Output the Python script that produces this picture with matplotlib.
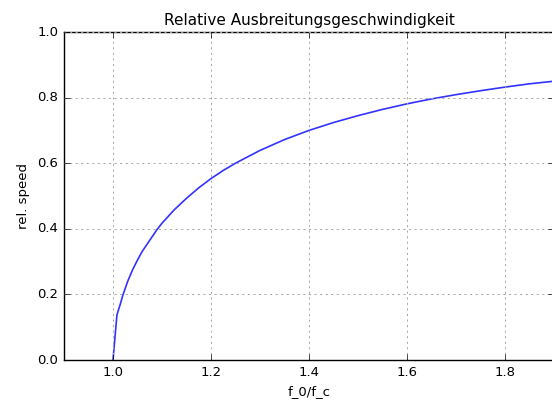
import matplotlib
matplotlib.use('Agg')
import matplotlib.pyplot as plt

# Werte
f_ratio = [1.0, 1.008, 1.015, 1.02, 1.03, 1.04, 1.05, 1.06, 1.075,
           1.09, 1.1, 1.125, 1.15, 1.175, 1.2, 1.225, 1.25, 1.3, 1.35, 1.4, 1.45,
           1.5, 1.55, 1.6, 1.65, 1.7, 1.75, 1.8, 1.85, 1.9]
rel_speed = [0.0, 0.137, 0.171, 0.197, 0.240, 0.275, 0.305, 0.332,
             0.365, 0.398, 0.417, 0.458, 0.493, 0.525, 0.553, 0.578, 0.600, 0.639,
             0.672, 0.700, 0.724, 0.745, 0.764, 0.781, 0.796, 0.809, 0.821, 0.832,
             0.842, 0.850]

plt.style.use('classic')
plt.rcParams['font.family'] = ['DejaVu Sans']
fig = plt.figure(figsize=(5.52, 4.07), dpi=100)
ax = fig.add_axes([64 / 552, 47 / 407, 490 / 552, 328 / 407])
ax.plot(f_ratio, rel_speed, color='b', linewidth=1.2, alpha=0.8)
ax.set_xlim(0.9, 1.9)
ax.set_ylim(0.0, 1.0)
ax.set_xticks([1.0, 1.2, 1.4, 1.6, 1.8])
ax.set_yticks([0.0, 0.2, 0.4, 0.6, 0.8, 1.0])
ax.grid(True, color='0.65', linestyle=(0, (1.5, 2.5)), linewidth=0.7)
ax.tick_params(labelsize=9.5)
ax.set_title('Relative Ausbreitungsgeschwindigkeit', fontsize=11)
ax.set_xlabel('f_0/f_c', fontsize=9.5)
ax.set_ylabel('rel. speed', fontsize=9.5)
fig.savefig('out.png', dpi=100)
